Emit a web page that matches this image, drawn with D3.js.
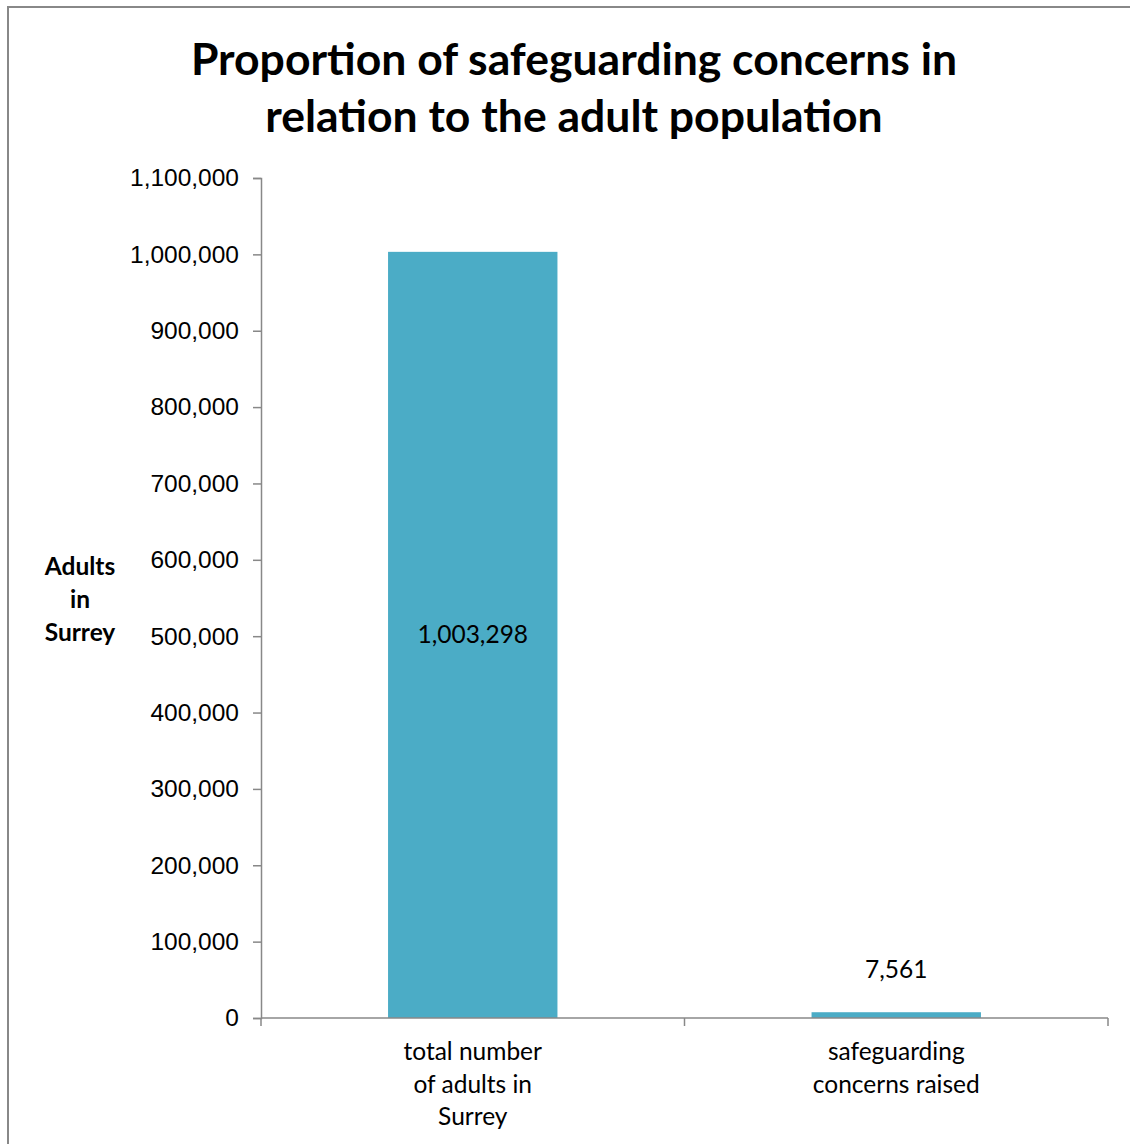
<!DOCTYPE html>
<html>
<head>
<meta charset="utf-8">
<script src="https://cdn.jsdelivr.net/npm/d3@7"></script>
<style>
  body { margin: 0; background: #fff; }
  svg { font-family: Lato, 'Open Sans', sans-serif; }
</style>
</head>
<body>
<div id="chart"></div>
<script>
// data
let categories = [['total number', 'of adults in', 'Surrey'], ['safeguarding', 'concerns raised']]
let values = [1003298, 7561]
let yTicks = [0, 100000, 200000, 300000, 400000, 500000, 600000, 700000, 800000, 900000, 1000000, 1100000]
let titleLines = ['Proportion of safeguarding concerns in', 'relation to the adult population']
let yLabelLines = ['Adults', 'in', 'Surrey']

let W = 1130
let H = 1144
let margin = { top: 178, left: 261, right: 22, bottom: 126 }
let width = W - margin.left - margin.right
let height = H - margin.top - margin.bottom
let labelSize = 24.5

let svg = d3.select('#chart')
  .append('svg')
  .attr('width', W)
  .attr('height', H)

// chart border
svg.append('rect')
  .attr('x', 8)
  .attr('y', 7)
  .attr('width', W + 10)
  .attr('height', H + 10)
  .attr('fill', 'none')
  .attr('stroke', '#888')
  .attr('stroke-width', 2)

svg.append('text')
  .attr('text-anchor', 'middle')
  .attr('font-weight', 'bold')
  .attr('font-size', 44.5)
  .attr('fill', '#000')
  .selectAll('tspan')
  .data(titleLines)
  .enter()
  .append('tspan')
  .attr('x', 574)
  .attr('y', (d, i) => 75 + i * 57)
  .text(d => d)

let g = svg.append('g')
  .attr('transform', `translate(${margin.left},${margin.top})`)

let x = d3.scaleBand()
  .domain(d3.range(values.length))
  .range([0, width])
  .paddingInner(0.6)
  .paddingOuter(0.3)

let y = d3.scaleLinear()
  .domain([0, 1100000])
  .range([height, 0])

// y axis
let yAxis = d3.axisLeft(y)
  .tickValues(yTicks)
  .tickFormat(d3.format(','))
  .tickSizeOuter(0)
  .tickSize(8)
  .tickPadding(14)

g.append('g')
  .attr('class', 'axis y-axis')
  .call(yAxis)
  .call(a => a.select('.domain').attr('stroke', '#888').attr('stroke-width', 1.5))
  .call(a => a.selectAll('.tick line').attr('stroke', '#888').attr('stroke-width', 1.5))
  .call(a => a.selectAll('.tick text').attr('font-size', labelSize).attr('fill', '#000'))

// bars
g.selectAll('.bar')
  .data(values)
  .enter()
  .append('rect')
  .attr('class', 'bar')
  .attr('x', (d, i) => x(i))
  .attr('y', d => y(d))
  .attr('width', x.bandwidth())
  .attr('height', d => height - y(d))
  .attr('fill', '#4BACC6')

// x axis line and category boundary ticks
let step = x.step()
let bounds = d3.range(values.length + 1).map(i => i === values.length ? width : x(i) - step * x.paddingInner() / 2)
bounds[0] = 0

g.append('line')
  .attr('x1', 0)
  .attr('x2', width)
  .attr('y1', height)
  .attr('y2', height)
  .attr('stroke', '#888')
  .attr('stroke-width', 1.5)

g.selectAll('.xtick')
  .data(bounds)
  .enter()
  .append('line')
  .attr('class', 'xtick')
  .attr('x1', d => d)
  .attr('x2', d => d)
  .attr('y1', height)
  .attr('y2', height + 8)
  .attr('stroke', '#888')
  .attr('stroke-width', 1.5)

// category labels
g.selectAll('.cat')
  .data(categories)
  .enter()
  .append('text')
  .attr('class', 'cat')
  .attr('text-anchor', 'middle')
  .attr('font-size', labelSize)
  .attr('fill', '#000')
  .each(function(lines, i) {
    d3.select(this)
      .selectAll('tspan')
      .data(lines)
      .enter()
      .append('tspan')
      .attr('x', x(i) + x.bandwidth() / 2)
      .attr('y', (d, j) => height + 42 + j * 32.5)
      .text(d => d)
  })

// data labels
g.selectAll('.val')
  .data(values)
  .enter()
  .append('text')
  .attr('class', 'val')
  .attr('text-anchor', 'middle')
  .attr('font-size', labelSize)
  .attr('fill', '#000')
  .attr('x', (d, i) => x(i) + x.bandwidth() / 2)
  .attr('y', (d, i) => i === 0 ? (y(d) + height) / 2 + 8 : y(d) - 34)
  .text(d => d3.format(',')(d))

// y axis title
svg.append('text')
  .attr('text-anchor', 'middle')
  .attr('font-weight', 'bold')
  .attr('font-size', labelSize)
  .attr('fill', '#000')
  .selectAll('tspan')
  .data(yLabelLines)
  .enter()
  .append('tspan')
  .attr('x', 80)
  .attr('y', (d, i) => 575 + i * 33)
  .text(d => d)
</script>
</body>
</html>
